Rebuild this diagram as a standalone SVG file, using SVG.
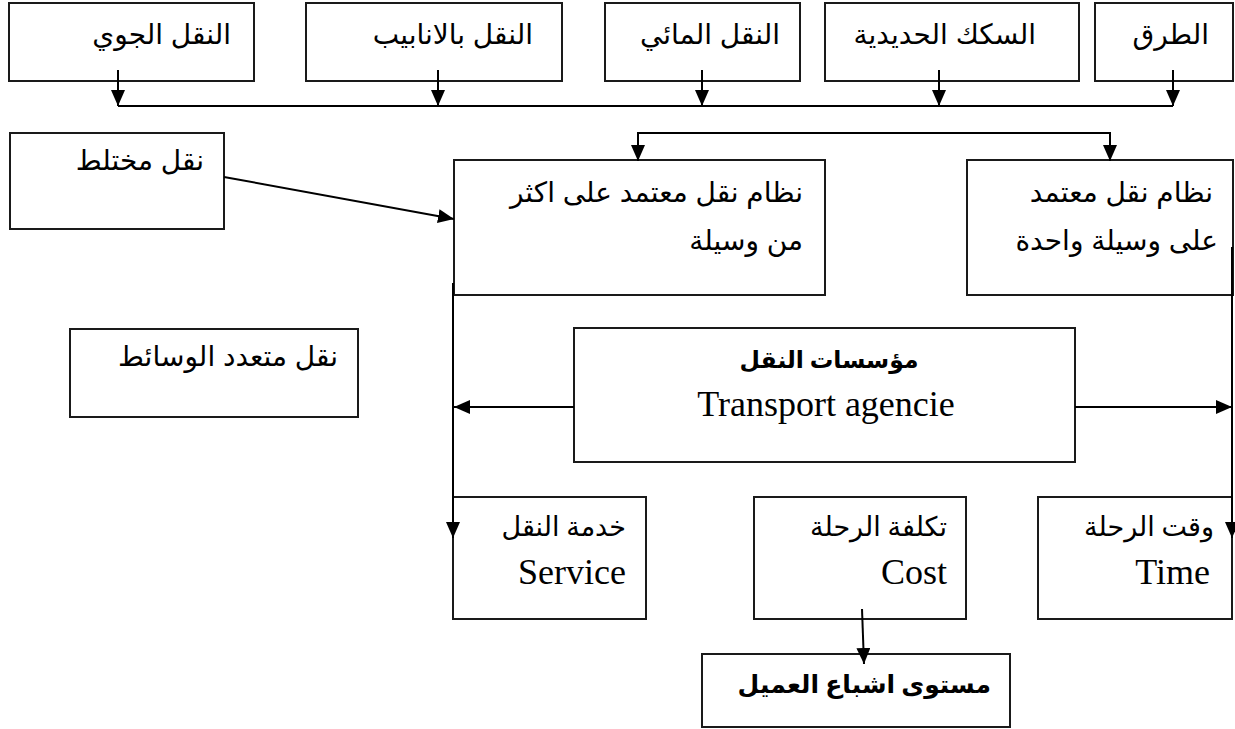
<svg xmlns="http://www.w3.org/2000/svg" width="1235" height="729" viewBox="0 0 1235 729">
<style>
  .box { fill: #ffffff; stroke: #1a1a1a; stroke-width: 2; }
  .ar { font-family: "Liberation Sans", "DejaVu Sans", sans-serif; font-size: 28px; fill: #000; text-anchor: end; }
  .ars { font-family: "Liberation Serif", "DejaVu Sans", serif; font-size: 27px; fill: #000; text-anchor: end; }
  .en { font-family: "Liberation Serif", serif; font-size: 36px; fill: #000; }
  .bold { font-weight: bold; }
  .conn { fill: none; stroke: #000; stroke-width: 2; }
</style>
<defs>
  <marker id="arrow" markerUnits="userSpaceOnUse" markerWidth="16" markerHeight="14" refX="16" refY="7" orient="auto">
    <path d="M0,0 L16,7 L0,14 z" fill="#000"/>
  </marker>
</defs>
<rect width="1235" height="729" fill="#ffffff"/>

<g id="node-air"><rect class="box" x="9" y="3" width="245" height="78"/><text class="ar" x="231" y="44">النقل الجوي</text></g>
<g id="node-pipe"><rect class="box" x="306" y="3" width="256" height="78"/><text class="ar" x="533" y="44">النقل بالانابيب</text></g>
<g id="node-water"><rect class="box" x="605" y="3" width="195" height="78"/><text class="ar" x="780" y="44">النقل المائي</text></g>
<g id="node-rail"><rect class="box" x="825" y="3" width="254" height="78"/><text class="ar" x="1036" y="44">السكك الحديدية</text></g>
<g id="node-road"><rect class="box" x="1095" y="3" width="138" height="78"/><text class="ar" x="1209" y="44">الطرق</text></g>

<g id="node-mixed"><rect class="box" x="10" y="133" width="214" height="96"/><text class="ar" x="204" y="170">نقل مختلط</text></g>
<g id="node-multi"><rect class="box" x="454" y="160" width="371" height="135"/><text class="ar" x="803" y="202">نظام نقل معتمد على اكثر</text><text class="ar" x="803" y="250">من وسيلة</text></g>
<g id="node-single"><rect class="box" x="967" y="160" width="266" height="135"/><text class="ar" x="1213" y="202">نظام نقل معتمد</text><text class="ar" x="1218" y="250">على وسيلة واحدة</text></g>
<g id="node-intermodal"><rect class="box" x="70" y="329" width="288" height="88"/><text class="ar" x="338" y="366">نقل متعدد الوسائط</text></g>
<g id="node-agency"><rect class="box" x="574" y="328" width="501" height="134"/><text class="ars bold" x="829" y="368" style="text-anchor:middle;font-size:23.5px">مؤسسات النقل</text><text class="en" x="826" y="416" text-anchor="middle">Transport agencie</text></g>
<g id="node-service"><rect class="box" x="453" y="497" width="193" height="122"/><text class="ars" x="626" y="536">خدمة النقل</text><text class="en" x="626" y="584" text-anchor="end">Service</text></g>
<g id="node-cost"><rect class="box" x="754" y="497" width="212" height="122"/><text class="ars" x="947" y="536">تكلفة الرحلة</text><text class="en" x="947" y="584" text-anchor="end">Cost</text></g>
<g id="node-time"><rect class="box" x="1038" y="497" width="194" height="122"/><text class="ars" x="1214" y="536">وقت الرحلة</text><text class="en" x="1210" y="584" text-anchor="end">Time</text></g>
<g id="node-satisfaction"><rect class="box" x="702" y="654" width="308" height="73"/><text class="ars bold" x="991" y="693" style="font-size:25px">مستوى اشباع العميل</text></g>

<g id="connectors">
  <line class="conn" x1="118" y1="106" x2="1173" y2="106"/>
  <line class="conn" x1="118" y1="70" x2="118" y2="106" marker-end="url(#arrow)"/>
  <line class="conn" x1="438" y1="70" x2="438" y2="106" marker-end="url(#arrow)"/>
  <line class="conn" x1="702" y1="70" x2="702" y2="106" marker-end="url(#arrow)"/>
  <line class="conn" x1="939" y1="70" x2="939" y2="106" marker-end="url(#arrow)"/>
  <line class="conn" x1="1173" y1="70" x2="1173" y2="106" marker-end="url(#arrow)"/>
  <polyline class="conn" points="638,161 638,133 1110,133 1110,161" />
  <line class="conn" x1="638" y1="140" x2="638" y2="161" marker-end="url(#arrow)"/>
  <line class="conn" x1="1110" y1="140" x2="1110" y2="161" marker-end="url(#arrow)"/>
  <line class="conn" x1="224" y1="177" x2="454" y2="219" marker-end="url(#arrow)"/>
  <line class="conn" x1="453" y1="283" x2="453" y2="538" marker-end="url(#arrow)"/>
  <line class="conn" x1="1232" y1="247" x2="1232" y2="538" marker-end="url(#arrow)"/>
  <line class="conn" x1="574" y1="407" x2="454" y2="407" marker-end="url(#arrow)"/>
  <line class="conn" x1="1075" y1="407" x2="1232" y2="407" marker-end="url(#arrow)"/>
  <line class="conn" x1="862" y1="609" x2="864" y2="664" marker-end="url(#arrow)"/>
</g>
</svg>
